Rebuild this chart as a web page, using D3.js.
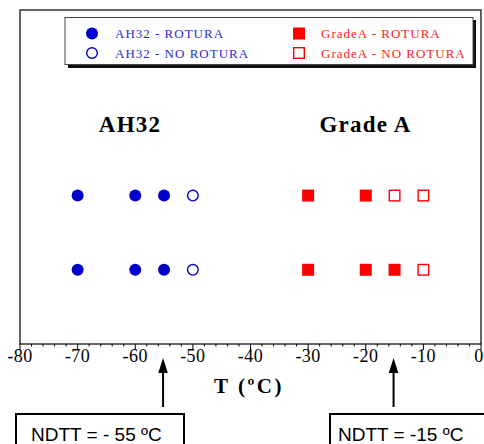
<!DOCTYPE html>
<html><head><meta charset="utf-8">
<script src="https://cdn.jsdelivr.net/npm/d3@7"></script>
<style>body{margin:0;background:#fff}svg{display:block}</style>
</head><body>
<script>
// Data
const ah32Rows = [1, 2];
const ah32Temps = [-70, -60, -55, -50];
const ah32Rotura = [[true, true, true, false], [true, true, true, false]];
const gradeARows = [1, 2];
const gradeATemps = [-30, -20, -15, -10];
const gradeARotura = [[true, true, true, false], [true, true, false, false]];
const xTicks = [-80, -70, -60, -50, -40, -30, -20, -10, 0];
const ndtt = [{label: "NDTT = - 55 ºC", t: -55}, {label: "NDTT = -15 ºC", t: -15}];
const groupLabels = [{name: "AH32", t: -60}, {name: "Grade A", t: -20}];
const legendItems = [
  {label: "AH32 - ROTURA", shape: "circle", filled: true, color: "#0000cc", text: "#2a2ad0"},
  {label: "AH32 - NO ROTURA", shape: "circle", filled: false, color: "#0000cc", text: "#2a2ad0"},
  {label: "GradeA - ROTURA", shape: "square", filled: true, color: "#ff0000", text: "#ff1a1a"},
  {label: "GradeA - NO ROTURA", shape: "square", filled: false, color: "#ff0000", text: "#ff1a1a"}
];

const SERIF = "'Liberation Serif', serif";
const SANS = "'Liberation Sans', sans-serif";
const W = 484, H = 444;
const svg = d3.select("body").append("svg").attr("width", W).attr("height", H);
const L = 20, R = 481, T = 10, B = 344;
const x = d3.scaleLinear().domain([-80, 0]).range([L, R]);
const y = d3.scaleLinear().domain([0, 4.5]).range([B, T]);

// frame
svg.append("rect").attr("x", L).attr("y", T).attr("width", R - L).attr("height", B - T)
  .attr("fill", "none").attr("stroke", "#000").attr("stroke-width", 1.2);

// ticks
const minor = d3.range(-80, 0.1, 2);
svg.append("g").selectAll("line").data(minor).join("line")
  .attr("x1", d => x(d)).attr("x2", d => x(d))
  .attr("y1", B).attr("y2", d => (d % 10 === 0) ? B + 6 : B + 2.5)
  .attr("stroke", "#000").attr("stroke-width", 1);

// tick labels
svg.append("g").selectAll("text").data(xTicks).join("text")
  .attr("x", d => d === 0 ? x(d) - 2 : x(d)).attr("y", 362)
  .attr("text-anchor", "middle")
  .style("font-family", SERIF)
  .attr("font-size", 18).attr("letter-spacing", 0.5)
  .text(d => d);

svg.append("text").attr("x", 249).attr("y", 393).attr("text-anchor", "middle")
  .style("font-family", SERIF)
  .attr("font-size", 21).attr("font-weight", "bold").attr("letter-spacing", 2.5)
  .text("T (ºC)");

// legend
const lg = svg.append("g");
lg.append("rect").attr("x", 68).attr("y", 20).attr("width", 408).attr("height", 48).attr("fill", "#111");
lg.append("rect").attr("x", 65).attr("y", 17.5).attr("width", 408).attr("height", 47)
  .attr("fill", "#fff").attr("stroke", "#444").attr("stroke-width", 1);
legendItems.forEach((d, i) => {
  const col = Math.floor(i / 2), row = i % 2;
  const mx = col === 0 ? 92 : 299;
  const my = row === 0 ? 33.5 : 53;
  if (d.shape === "circle") {
    lg.append("circle").attr("cx", mx).attr("cy", my).attr("r", d.filled ? 6 : 5.3)
      .attr("fill", d.filled ? d.color : "#fff").attr("stroke", d.color).attr("stroke-width", d.filled ? 0 : 1.4);
  } else {
    const s = d.filled ? 12 : 10.6;
    lg.append("rect").attr("x", mx - s / 2).attr("y", my - s / 2).attr("width", s).attr("height", s)
      .attr("fill", d.filled ? d.color : "#fff").attr("stroke", d.color).attr("stroke-width", d.filled ? 0 : 1.4);
  }
  lg.append("text").attr("x", col === 0 ? 115 : 321).attr("y", my + 4.5)
    .style("font-family", SERIF)
    .attr("font-size", 13).attr("letter-spacing", 1).attr("fill", d.text).text(d.label);
});

// group labels
svg.append("g").selectAll("text").data(groupLabels).join("text")
  .attr("x", (d, i) => i === 0 ? 130 : 365.5).attr("y", 132).attr("text-anchor", "middle")
  .style("font-family", SERIF)
  .attr("font-size", 23).attr("font-weight", "bold").attr("letter-spacing", 1.2)
  .text(d => d.name);

// AH32 points
ah32Rows.forEach((r, ri) => {
  ah32Temps.forEach((t, ti) => {
    const f = ah32Rotura[ri][ti];
    svg.append("circle").attr("cx", x(t)).attr("cy", y(r)).attr("r", f ? 6 : 5.3)
      .attr("fill", f ? "#0000cc" : "#fff").attr("stroke", "#0000cc").attr("stroke-width", f ? 0 : 1.4);
  });
});
// Grade A points
gradeARows.forEach((r, ri) => {
  gradeATemps.forEach((t, ti) => {
    const f = gradeARotura[ri][ti];
    const s = f ? 12 : 10.6;
    svg.append("rect").attr("x", x(t) - s / 2).attr("y", y(r) - s / 2).attr("width", s).attr("height", s)
      .attr("fill", f ? "#ff0000" : "#fff").attr("stroke", "#ff0000").attr("stroke-width", f ? 0 : 1.4);
  });
});

// arrows & NDTT boxes
ndtt.forEach((d, i) => {
  const ax = x(d.t) - 1;
  svg.append("line").attr("x1", ax).attr("x2", ax).attr("y1", 372).attr("y2", 407)
    .attr("stroke", "#000").attr("stroke-width", 2);
  svg.append("path").attr("d", `M${ax},358 L${ax - 4.8},373 L${ax + 4.8},373 Z`).attr("fill", "#000");
  const bx = i === 0 ? 16 : 330, bw = i === 0 ? 168 : 170;
  svg.append("rect").attr("x", bx).attr("y", 414).attr("width", bw).attr("height", 50)
    .attr("fill", "#fff").attr("stroke", "#000").attr("stroke-width", 2);
  svg.append("text").attr("x", i === 0 ? 31 : 338).attr("y", 441)
    .style("font-family", SANS).attr("font-size", 19)
    .text(d.label);
});
</script>
</body></html>
